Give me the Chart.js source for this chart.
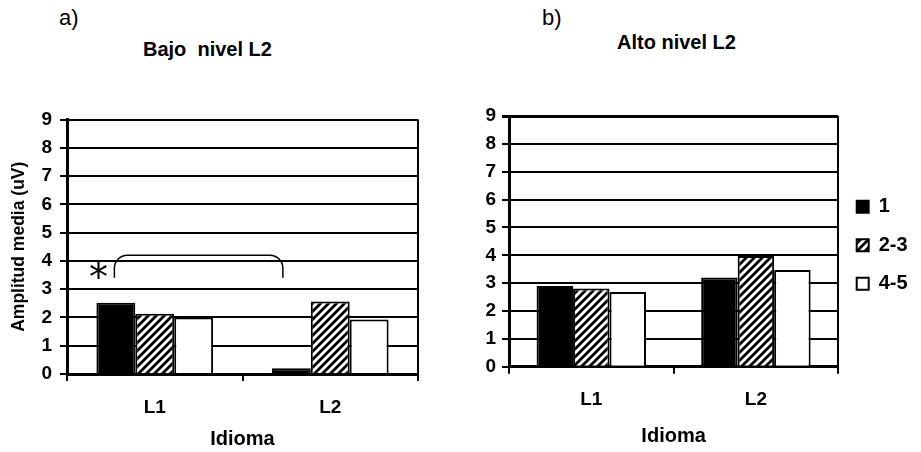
<!DOCTYPE html>
<html>
<head>
<meta charset="utf-8">
<script src="https://cdn.jsdelivr.net/npm/chart.js@4"></script>
<style>
  html, body { margin: 0; padding: 0; background: #fff; }
  #wrap { position: relative; width: 921px; height: 452px; overflow: hidden; font-family: 'Liberation Sans', Arial, sans-serif; color: #000; }
  #wrap canvas { position: absolute; top: 0; }
  .lbl { position: absolute; white-space: pre; line-height: 1; }
  .panel { font-size: 22px; }
  .ttl { font-size: 20px; font-weight: bold; }
</style>
</head>
<body>
<div id="wrap">
  <div class="lbl panel" style="left:59px; top:7px;">a)</div>
  <div class="lbl ttl" style="left:143px; top:39px;">Bajo  nivel L2</div>
  <div class="lbl panel" style="left:542px; top:7px;">b)</div>
  <div class="lbl ttl" style="left:617px; top:32px;">Alto nivel L2</div>
  <canvas id="bajo" width="460" height="452" style="left:0"></canvas>
  <canvas id="alto" width="461" height="452" style="left:460px"></canvas>
</div>
<script>
const categories = ['L1', 'L2']
const groups = ['1', '2-3', '4-5']

// a) Bajo nivel L2
const bajo1 = [2.52, 0.2]
const bajo23 = [2.13, 2.56]
const bajo45 = [2.0, 1.93]

// b) Alto nivel L2
const alto1 = [2.9, 3.2]
const alto23 = [2.81, 3.97]
const alto45 = [2.68, 3.47]

const yMin = 0
const yMax = 9

// significance bracket in panel a (category index / value units)
const bracketX = [-0.23, 0.73]
const bracketY = [4.2, 3.4]
const starAt = [-0.32, 3.68]

Chart.defaults.font.family = "'Liberation Sans', Arial, sans-serif"
Chart.defaults.color = '#000'

function hatch() {
    const c = document.createElement('canvas')
    c.width = 8
    c.height = 8
    const g = c.getContext('2d')
    g.fillStyle = '#fff'
    g.fillRect(0, 0, 8, 8)
    g.strokeStyle = '#000'
    g.lineWidth = 2.8
    g.beginPath()
    g.moveTo(0, 8); g.lineTo(8, 0)
    g.moveTo(-4, 4); g.lineTo(4, -4)
    g.moveTo(4, 12); g.lineTo(12, 4)
    g.stroke()
    return g.createPattern(c, 'repeat')
}

const fills = ['#000', hatch(), '#fff']

function datasets(series) {
    return series.map((vals, i) => ({
        label: groups[i],
        data: vals,
        backgroundColor: fills[i],
        borderColor: '#000',
        borderWidth: 2,
        borderSkipped: 'start',
        barPercentage: 1,
        categoryPercentage: 0.665,
    }))
}

const bracketPlugin = {
    id: 'bracket',
    afterDatasetsDraw(chart) {
        if (chart.canvas.id !== 'bajo') return
        const { ctx, scales: { x, y } } = chart
        const x0 = x.getPixelForValue(bracketX[0])
        const x1 = x.getPixelForValue(bracketX[1])
        const yTop = y.getPixelForValue(bracketY[0])
        const yEnd = y.getPixelForValue(bracketY[1])
        ctx.save()
        ctx.strokeStyle = '#000'
        ctx.lineWidth = 1.5
        ctx.beginPath()
        ctx.moveTo(x0, yEnd)
        ctx.arcTo(x0, yTop, x0 + 14, yTop, 13)
        ctx.arcTo(x1, yTop, x1, yEnd, 13)
        ctx.lineTo(x1, yEnd)
        ctx.stroke()
        ctx.font = '38px "DejaVu Sans"'
        ctx.textAlign = 'center'
        ctx.textBaseline = 'alphabetic'
        ctx.fillStyle = '#000'
        ctx.fillText('*', x.getPixelForValue(starAt[0]), y.getPixelForValue(starAt[1]) + 20)
        ctx.restore()
    }
}

function options(o) {
    return {
        responsive: false,
        animation: false,
        layout: { padding: o.padding },
        plugins: {
            legend: o.legend,
            tooltip: { enabled: false },
        },
        scales: {
            x: {
                grid: {
                    offset: true,
                    drawOnChartArea: true,
                    color: ctx => ctx.index === 1 ? 'rgba(0,0,0,0)' : '#000',
                    lineWidth: 2,
                    tickLength: 7,
                    tickColor: '#000',
                    tickWidth: 2,
                },
                border: { display: true, color: '#000', width: 3 },
                ticks: { font: { size: 19, weight: 'bold' }, padding: 15, color: '#000' },
                title: {
                    display: true,
                    text: 'Idioma',
                    font: { size: 20, weight: 'bold' },
                    color: '#000',
                    padding: { top: 0, bottom: o.xTitlePad },
                },
                afterFit: s => { s.height = o.xHeight },
            },
            y: {
                min: yMin,
                max: yMax,
                ticks: { stepSize: 1, font: { size: 19, weight: 'bold' }, padding: o.yTickPad, color: '#000' },
                grid: {
                    color: '#000',
                    lineWidth: ctx => (o.topThick && ctx.tick && ctx.tick.value === yMax) ? 3 : 2,
                    tickLength: 7,
                },
                border: { display: true, color: '#000', width: 3 },
                title: o.yTitle,
                afterFit: s => { s.width = o.yWidth },
            },
        },
    }
}

new Chart(document.getElementById('bajo'), {
    type: 'bar',
    data: { labels: categories, datasets: datasets([bajo1, bajo23, bajo45]) },
    options: options({
        padding: { left: 0, top: 119.5, right: 42, bottom: 0 },
        legend: { display: false },
        xHeight: 78,
        xTitlePad: 1,
        yWidth: 67,
        yTickPad: 8,
        topThick: false,
        yTitle: {
            display: true,
            text: 'Amplitud media (uV)',
            font: { size: 17.5, weight: 'bold' },
            color: '#000',
            padding: { top: 9, bottom: 0 },
        },
    }),
    plugins: [bracketPlugin],
})

new Chart(document.getElementById('alto'), {
    type: 'bar',
    data: { labels: categories, datasets: datasets([alto1, alto23, alto45]) },
    options: options({
        padding: { left: 0, top: 116, right: 3.4, bottom: 0 },
        legend: {
            display: true,
            position: 'right',
            fullSize: false,
            title: { display: true, text: '', padding: 0, font: { size: 8, lineHeight: 1 } },
            labels: {
                boxWidth: 12,
                boxHeight: 12,
                padding: 18.5,
                color: '#000',
                font: { size: 20, weight: 'bold' },
            },
        },
        xHeight: 85.3,
        xTitlePad: 3.3,
        yWidth: 49,
        yTickPad: 6,
        topThick: true,
        yTitle: { display: false },
    }),
})
</script>
</body>
</html>
